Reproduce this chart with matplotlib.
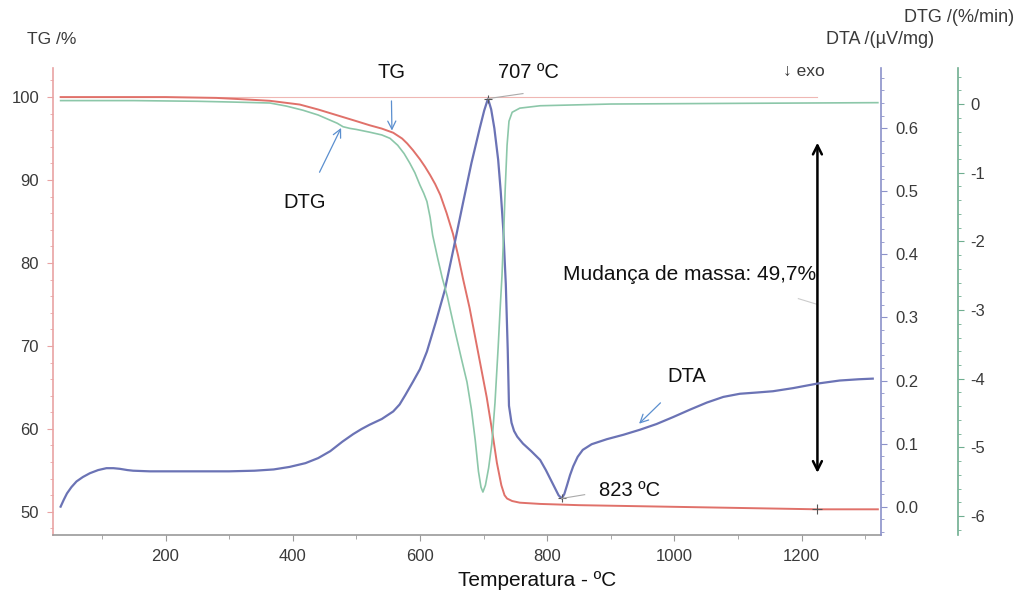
import matplotlib
matplotlib.use("Agg")
import matplotlib.pyplot as plt
from matplotlib.ticker import MultipleLocator

plt.rcParams['font.family'] = ['Liberation Sans', 'DejaVu Sans']
plt.rcParams['axes.unicode_minus'] = False

# TG curve (mass %), read against temperature in degC
temp_tg = [35, 200, 280, 330, 364, 411, 440, 470, 500, 521, 540, 558, 572, 580, 589,
           600, 608, 616, 624, 632, 642, 652, 660, 668, 678, 687, 696, 705, 713, 721,
           728, 733, 737, 745, 757, 789, 850, 1000, 1225, 1320]
tg = [100.0, 100.0, 99.9, 99.7, 99.55, 99.1, 98.5, 97.8, 97.1, 96.6, 96.2, 95.7, 95.0,
      94.4, 93.6, 92.5, 91.6, 90.6, 89.5, 88.2, 86.0, 83.5, 80.9, 78.0, 74.6, 71.0,
      67.4, 63.8, 60.0, 55.9, 53.2, 52.0, 51.6, 51.3, 51.1, 50.95, 50.8, 50.6, 50.3,
      50.3]

# DTG curve (%/min)
temp_dtg = [35, 150, 250, 300, 364, 390, 416, 440, 460, 470, 479, 490, 500, 521, 540,
            553, 565, 575, 584, 592, 600, 606, 611, 616, 620, 628, 635, 643, 655, 665,
            674, 681, 687, 692, 696, 699, 703, 708, 713, 718, 723, 726, 729, 732, 734,
            737, 740, 745, 757, 789, 900, 1100, 1320]
dtg = [0.05, 0.05, 0.04, 0.03, 0.015, -0.03, -0.09, -0.16, -0.24, -0.28, -0.33, -0.355,
       -0.37, -0.41, -0.45, -0.5, -0.6, -0.72, -0.86, -1.0, -1.18, -1.3, -1.42, -1.65,
       -1.91, -2.25, -2.53, -2.8, -3.3, -3.7, -4.05, -4.45, -4.9, -5.35, -5.58, -5.65,
       -5.55, -5.3, -4.95, -4.35, -3.54, -3.0, -2.5, -1.8, -1.25, -0.6, -0.25, -0.12,
       -0.06, -0.025, 0.0, 0.01, 0.02]

# DTA curve (uV/mg)
temp_dta = [35, 40, 45, 52, 60, 70, 81, 94, 107, 118, 128, 140, 149, 175, 223, 300,
            340, 370, 395, 420, 440, 459, 478, 495, 508, 521, 540, 558, 568, 577, 589,
            600, 611, 625, 639, 653, 668, 681, 694, 701, 707, 712, 717, 723, 727, 731,
            735, 738, 740, 744, 748, 753, 762, 775, 789, 798, 806, 813, 818, 823, 827,
            831, 836, 841, 848, 856, 870, 894, 920, 946, 972, 998, 1025, 1051, 1077,
            1103, 1130, 1155, 1187, 1224, 1260, 1290, 1312]
dta = [0.0, 0.011, 0.021, 0.031, 0.04, 0.047, 0.053, 0.058, 0.061, 0.061, 0.06, 0.058,
       0.057, 0.056, 0.056, 0.056, 0.057, 0.059, 0.063, 0.069, 0.077, 0.088, 0.103,
       0.115, 0.123, 0.13, 0.139, 0.151, 0.162, 0.177, 0.198, 0.218, 0.246, 0.293,
       0.343, 0.41, 0.483, 0.545, 0.6, 0.628, 0.647, 0.63, 0.6, 0.55, 0.5, 0.44, 0.353,
       0.25, 0.16, 0.133, 0.12, 0.111, 0.1, 0.088, 0.074, 0.058, 0.042, 0.028, 0.018,
       0.013, 0.02, 0.033, 0.05, 0.064, 0.079, 0.09, 0.099, 0.107, 0.114, 0.122, 0.131,
       0.142, 0.154, 0.165, 0.174, 0.179, 0.181, 0.183, 0.188, 0.195, 0.2, 0.202, 0.203]

peak_t, peak_dta = 707, 0.647
min_t, min_dta = 823, 0.013
step_t, tg_start, tg_end = 1225, 100.0, 50.3

red = '#e0716a'
blue = '#6b73b5'
green = '#8cc7a9'
txt = '#3a3a3a'
arrow_c = '#5b8fcf'

fig = plt.figure(figsize=(10.21, 5.99), dpi=100)
ax = fig.add_axes([0.0519, 0.1068, 0.811, 0.7796])
ax_dta = ax.twinx()
ax_dtg = ax.twinx()
ax_dtg.spines['right'].set_position(('axes', 1.093))

ax.set_xlim(23, 1325)
ax.set_ylim(47.2, 103.5)
ax_dta.set_ylim(-0.045, 0.6955)
ax_dtg.set_ylim(-6.276, 0.524)

# reference level of the mass step
ax.plot([35, step_t], [tg_start, tg_start], color=red, lw=0.8, alpha=0.5)
ax.plot(temp_tg, tg, color=red, lw=1.4)
ax_dtg.plot(temp_dtg, dtg, color=green, lw=1.2)
ax_dta.plot(temp_dta, dta, color=blue, lw=1.6)

# spines and ticks
for a in (ax, ax_dta, ax_dtg):
    a.spines['top'].set_visible(False)
    for s in a.spines.values():
        s.set_linewidth(1.2)
for a in (ax_dta, ax_dtg):
    a.spines['left'].set_visible(False)
    a.spines['bottom'].set_visible(False)
ax.spines['right'].set_visible(False)
ax.spines['left'].set_color('#e9a3a3')
ax.spines['bottom'].set_color('#9a9a9a')
ax_dta.spines['right'].set_color('#8b91c9')
ax_dtg.spines['right'].set_color('#6fae90')

ax.xaxis.set_minor_locator(MultipleLocator(100))
ax.yaxis.set_minor_locator(MultipleLocator(2))
ax_dta.yaxis.set_minor_locator(MultipleLocator(0.02))
ax_dtg.yaxis.set_minor_locator(MultipleLocator(0.2))
ax.set_xticks([200, 400, 600, 800, 1000, 1200])
ax.set_yticks([50, 60, 70, 80, 90, 100])
ax_dta.set_yticks([0.0, 0.1, 0.2, 0.3, 0.4, 0.5, 0.6])
ax_dta.set_yticklabels(['0.0', '0.1', '0.2', '0.3', '0.4', '0.5', '0.6'])
ax_dtg.set_yticks([-6, -5, -4, -3, -2, -1, 0])

ax.tick_params(axis='x', which='major', length=4, color='#9a9a9a', labelsize=12,
               labelcolor=txt, pad=6)
ax.tick_params(axis='x', which='minor', length=3, color='#9a9a9a')
ax.tick_params(axis='y', which='major', length=4, color='#e9a3a3', labelsize=12,
               labelcolor=txt, pad=6)
ax.tick_params(axis='y', which='minor', length=2.5, color='#e9a3a3')
ax_dta.tick_params(axis='y', which='major', length=4, color='#8b91c9', labelsize=12,
                   labelcolor=txt, pad=6)
ax_dta.tick_params(axis='y', which='minor', length=2.5, color='#8b91c9')
ax_dtg.tick_params(axis='y', which='major', length=4, color='#6fae90', labelsize=12,
                   labelcolor=txt, pad=5)
ax_dtg.tick_params(axis='y', which='minor', length=2.5, color='#6fae90')

# axis titles
fig.text(52 / 1021, 1 - 39 / 599, 'TG /%', ha='center', va='center', fontsize=12.5, color=txt)
fig.text(959 / 1021, 1 - 18 / 599, 'DTG /(%/min)', ha='center', va='center', fontsize=13, color=txt)
fig.text(880 / 1021, 1 - 40 / 599, 'DTA /(µV/mg)', ha='center', va='center', fontsize=13, color=txt)
fig.text(804 / 1021, 1 - 71 / 599, '↓ exo', ha='center', va='center', fontsize=12.5, color=txt)
fig.text(537 / 1021, 1 - 580 / 599, 'Temperatura - ºC', ha='center', va='center',
         fontsize=15, color='#111111')

# curve labels with arrows
ax.annotate('TG', xy=(556, 95.8), xytext=(391, 527), textcoords='figure pixels',
            ha='center', va='center', fontsize=14.5, color='#111111',
            arrowprops=dict(arrowstyle='->', color=arrow_c, lw=0.9,
                            shrinkA=12, shrinkB=1))
ax_dtg.annotate('DTG', xy=(477, -0.33), xytext=(305, 397), textcoords='figure pixels',
                ha='center', va='center', fontsize=14.5, color='#111111',
                arrowprops=dict(arrowstyle='->', color=arrow_c, lw=0.9,
                                shrinkA=14, shrinkB=1))
ax_dta.annotate('DTA', xy=(943, 0.13), xytext=(687, 222), textcoords='figure pixels',
                ha='center', va='center', fontsize=14.5, color='#111111',
                arrowprops=dict(arrowstyle='->', color=arrow_c, lw=0.9,
                                shrinkA=14, shrinkB=1))

# peak and minimum markers of DTA
ax_dta.plot([peak_t], [peak_dta], marker='+', color='#555555', ms=6, mew=0.8)
ax_dta.plot([peak_t, peak_t + 55], [peak_dta, peak_dta + 0.008], color='#aaaaaa', lw=0.8)
ax_dta.text(peak_t + 64, 0.689, f'{peak_t} ºC', ha='center', va='center',
            fontsize=14.5, color='#111111')
ax_dta.plot([min_t], [min_dta], marker='+', color='#555555', ms=6, mew=0.8)
ax_dta.plot([min_t, min_t + 36], [min_dta, min_dta + 0.006], color='#aaaaaa', lw=0.8)
ax_dta.text(min_t + 107, 0.026, f'{min_t} ºC', ha='center', va='center',
            fontsize=14.5, color='#111111')

# mass change
ax.plot([step_t], [tg_end], marker='+', color='#555555', ms=7, mew=0.8)
ax.annotate('', xy=(step_t, 54.7), xytext=(step_t, 94.5),
            arrowprops=dict(arrowstyle='<->', color='black', lw=1.8,
                            mutation_scale=16, shrinkA=0, shrinkB=0))
ax.plot([step_t - 30, step_t], [75.7, 75.0], color='#cccccc', lw=0.8)
ax.text(825, 78.6, f'Mudança de massa: {tg_start - tg_end:.1f}%'.replace('.', ','),
        ha='left', va='center', fontsize=15, color='#111111')

fig.savefig('out.png', dpi=100)
